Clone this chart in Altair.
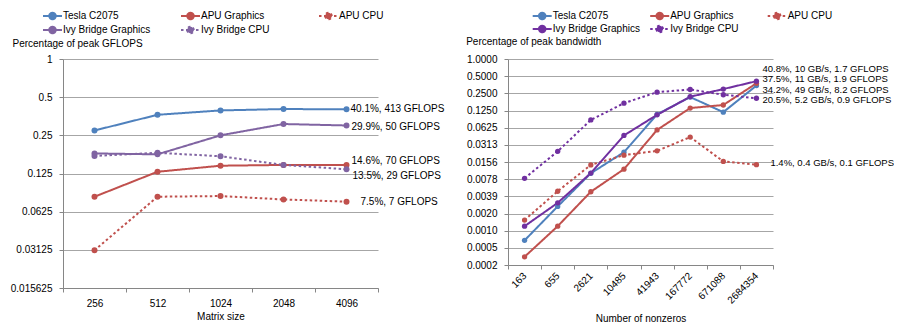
import altair as alt
import pandas as pd

FONT = "Liberation Sans"

# ---------------- data ----------------
series_names = ["Tesla C2075", "APU Graphics", "APU CPU", "Ivy Bridge Graphics", "Ivy Bridge CPU"]

# left: dense matrix multiply, fraction of peak GFLOPS
matrix_sizes = ["256", "512", "1024", "2048", "4096"]
gflops_tesla = [0.273, 0.363, 0.393, 0.403, 0.401]
gflops_apu_gpu = [0.082, 0.129, 0.144, 0.146, 0.146]
gflops_apu_cpu = [0.031, 0.082, 0.083, 0.078, 0.075]
gflops_ivy_gpu = [0.180, 0.177, 0.250, 0.307, 0.299]
gflops_ivy_cpu = [0.172, 0.182, 0.171, 0.146, 0.135]
gflops_labels = ["40.1%, 413 GFLOPS", "14.6%, 70 GFLOPS", "7.5%, 7 GFLOPS",
                 "29.9%, 50 GFLOPS", "13.5%, 29 GFLOPS"]

# right: sparse matrix-vector, fraction of peak bandwidth
nonzeros = ["163", "655", "2621", "10485", "41943", "167772", "671088", "2684354"]
bw_tesla = [0.00066, 0.0026, 0.0099, 0.0232, 0.107, 0.215, 0.117, 0.342]
bw_apu_gpu = [0.00034, 0.00117, 0.0047, 0.0117, 0.057, 0.138, 0.156, 0.375]
bw_apu_cpu = [0.0015, 0.0048, 0.0139, 0.0206, 0.0245, 0.0427, 0.016, 0.014]
bw_ivy_gpu = [0.00117, 0.0030, 0.0100, 0.0456, 0.105, 0.218, 0.297, 0.408]
bw_ivy_cpu = [0.0081, 0.0240, 0.0855, 0.168, 0.262, 0.292, 0.236, 0.205]
bw_labels = ["34.2%, 49 GB/s, 8.2 GFLOPS", "37.5%, 11 GB/s, 1.9 GFLOPS", "1.4%, 0.4 GB/s, 0.1 GFLOPS",
             "40.8%, 10 GB/s, 1.7 GFLOPS", "20.5%, 5.2 GB/s, 0.9 GFLOPS"]

# ---------------- styling ----------------
BLUE, RED = "#4f81bd", "#c0504d"
SOLID, DOT = [1, 0], [2.5, 2.5]
DASHES = [SOLID, SOLID, DOT, SOLID, DOT]
LEG_PATH = "M-1.9,0L1.9,0M-0.65,0A0.65,0.65,0,1,0,0.65,0A0.65,0.65,0,1,0,-0.65,0Z"


def panel(cats, values, labels, colors, ymin_exp, yfmt, ytitle, ytitle_xy, xtitle,
          w, h, leg, lab_off, xaxis_kw, msize, lab_font):
    n = len(cats)
    rows = []
    for s, vals in zip(series_names, values):
        for i, v in enumerate(vals):
            rows.append({"series": s, "idx": i, "value": v})
    df = pd.DataFrame(rows)

    xscale = alt.Scale(domain=[-0.5, n - 0.5], nice=False, zero=False)
    yscale = alt.Scale(type="log", base=2, domain=[2.0 ** -ymin_exp, 1], nice=False)
    yvals = [2.0 ** -k for k in range(ymin_exp + 1)]
    cscale = alt.Scale(domain=series_names, range=colors)
    dscale = alt.Scale(domain=series_names, range=DASHES)
    label_expr = "[" + ",".join("'%s'" % c for c in cats) + "][round(datum.value)]"

    lines = alt.Chart(df).mark_line(strokeWidth=2).encode(
        x=alt.X("idx:Q", scale=xscale,
                axis=alt.Axis(values=list(range(n)), labelExpr=label_expr, ticks=False, domain=False,
                              grid=False, title=xtitle, orient="bottom", labelOverlap=False,
                              **xaxis_kw)),
        y=alt.Y("value:Q", scale=yscale,
                axis=alt.Axis(values=yvals, format=yfmt, grid=True, title=ytitle, titleAngle=0,
                              titleAlign="left", titleBaseline="middle", titleX=ytitle_xy[0],
                              titleY=ytitle_xy[1], tickSize=4, labelPadding=7, labelOverlap=False,
                              orient="left")),
        color=alt.Color("series:N", scale=cscale, legend=None),
        strokeDash=alt.StrokeDash("series:N", scale=dscale, legend=None),
    )
    points = alt.Chart(df).mark_circle(size=msize, opacity=1).encode(
        x=alt.X("idx:Q", scale=xscale,
                axis=alt.Axis(values=[i - 0.5 for i in range(n + 1)], labels=False, ticks=True,
                              tickSize=4, domain=True, grid=False, title=None, orient="bottom")),
        y=alt.Y("value:Q", scale=yscale, axis=None),
        color=alt.Color("series:N", scale=cscale, legend=None),
    )
    texts = []
    for s, vals, lab in zip(series_names, values, labels):
        tdf = pd.DataFrame([{"series": s, "idx": n - 1, "value": vals[-1], "label": lab}])
        dx, dy = lab_off[s]
        texts.append(alt.Chart(tdf).mark_text(align="left", baseline="middle", dx=dx, dy=dy,
                                              fontSize=lab_font, font=FONT, color="black").encode(
            x=alt.X("idx:Q", scale=xscale, axis=None),
            y=alt.Y("value:Q", scale=yscale, axis=None),
            text="label:N",
        ))

    # legend drawn from the series list (3 columns, row-major)
    leg_df = pd.DataFrame({"series": series_names,
                           "col": [i % 3 for i in range(len(series_names))],
                           "row": [i // 3 for i in range(len(series_names))]})
    lx = alt.X("col:Q", scale=alt.Scale(domain=[0, 2], range=leg["xr"], nice=False, zero=False), axis=None)
    ly = alt.Y("row:Q", scale=alt.Scale(domain=[0, 1], range=leg["yr"], nice=False, zero=False), axis=None)
    leg_sym = alt.Chart(leg_df).mark_point(shape=LEG_PATH, size=100, strokeWidth=2, opacity=1,
                                           fillOpacity=1, strokeOpacity=1).encode(
        x=lx, y=ly,
        stroke=alt.Stroke("series:N", scale=cscale, legend=None),
        fill=alt.Fill("series:N", scale=cscale, legend=None),
        strokeDash=alt.StrokeDash("series:N", scale=dscale, legend=None),
    )
    leg_txt = alt.Chart(leg_df).mark_text(align="left", baseline="middle", dx=10.5, fontSize=10,
                                          font=FONT, color="black").encode(
        x=lx, y=ly, text="series:N")

    return alt.layer(lines, points, *texts, leg_sym, leg_txt).resolve_scale(
        x="independent", y="independent").resolve_axis(
        x="independent", y="independent").properties(width=w, height=h)


left = panel(
    matrix_sizes,
    [gflops_tesla, gflops_apu_gpu, gflops_apu_cpu, gflops_ivy_gpu, gflops_ivy_cpu],
    gflops_labels,
    [BLUE, RED, RED, "#8064a2", "#8064a2"],
    6, "~g", "Percentage of peak GFLOPS", (-51, -16), "Matrix size",
    315, 229,
    {"xr": [-10.5, 265.5], "yr": [-43, -29]},
    {"Tesla C2075": (4, 0), "APU Graphics": (5, -4), "APU CPU": (14, 0),
     "Ivy Bridge Graphics": (5, 1.2), "Ivy Bridge CPU": (6, 6.4)},
    {"labelPadding": 10, "titlePadding": 3},
    36, 10,
)

right = panel(
    nonzeros,
    [bw_tesla, bw_apu_gpu, bw_apu_cpu, bw_ivy_gpu, bw_ivy_cpu],
    bw_labels,
    [BLUE, RED, RED, "#7030a0", "#7030a0"],
    12, ".4f", "Percentage of peak bandwidth", (-42.3, -18), "Number of nonzeros",
    265, 206,
    {"xr": [34.2, 269.2], "yr": [-43, -30]},
    {"Tesla C2075": (6, 4.2), "APU Graphics": (6, -3.8), "APU CPU": (14, -1.3),
     "Ivy Bridge Graphics": (6, -12.7), "Ivy Bridge CPU": (6, 1.7)},
    {"labelPadding": 9, "labelAngle": -45, "labelAlign": "right", "labelBaseline": "middle",
     "titlePadding": 8},
    28, 9.5,
)

chart = alt.hconcat(left, right, spacing=130, bounds="flush").resolve_scale(
    color="independent", stroke="independent", fill="independent", strokeDash="independent"
).properties(
    padding={"left": 2, "top": 0, "right": 0, "bottom": 0}
).configure_view(stroke=None).configure_axis(
    labelFont=FONT, titleFont=FONT, labelFontSize=10, titleFontSize=10, labelColor="black",
    titleColor="black", titleFontWeight="normal", gridColor="#a6a6a6", gridWidth=1,
    domainColor="#868686", tickColor="#868686",
)

chart.save("out.html", embed_options={"renderer": "svg", "actions": False})
